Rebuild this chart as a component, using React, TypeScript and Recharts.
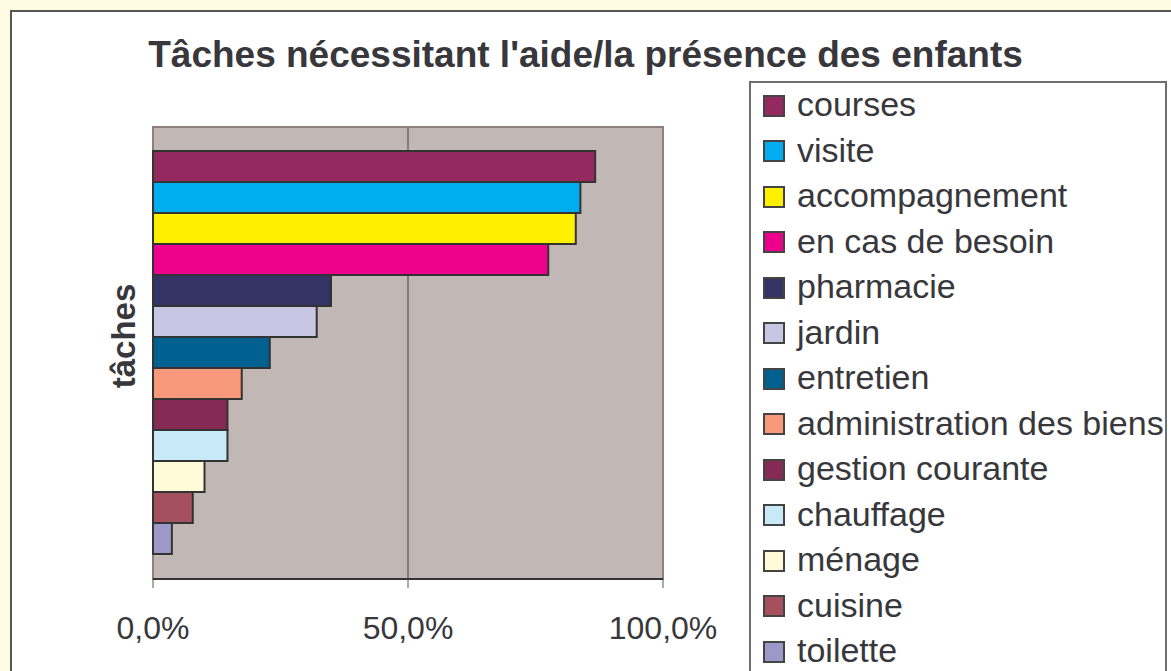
import { Bar, BarChart, CartesianGrid, Legend, ReferenceArea, XAxis, YAxis } from "recharts";

const tasks = [
  "courses",
  "visite",
  "accompagnement",
  "en cas de besoin",
  "pharmacie",
  "jardin",
  "entretien",
  "administration des biens",
  "gestion courante",
  "chauffage",
  "ménage",
  "cuisine",
  "toilette",
];

// share of respondents (%)
const shares = [86.7, 83.8, 82.9, 77.5, 34.9, 32.1, 22.9, 17.4, 14.6, 14.6, 10.1, 7.8, 3.7];

const colors = [
  "#93295E",
  "#00ADEE",
  "#FFF000",
  "#EC008C",
  "#333366",
  "#C8C6E2",
  "#006090",
  "#F7997A",
  "#852A55",
  "#C8EAF8",
  "#FFFBD8",
  "#A5505E",
  "#9C98C8",
];

const xTicks = [0, 50, 100];
const category = "tâches";
const title = "Tâches nécessitant l'aide/la présence des enfants";

const row: Record<string, string | number> = { name: category };
tasks.forEach((_, i) => {
  row[`s${i}`] = shares[i];
});
const data = [row];

const font = "'Liberation Sans', Arial, Helvetica, sans-serif";
const ink = "#37373c";

const fmtPct = (v: number) => `${v.toFixed(1).replace(".", ",")}%`;

function LegendBox() {
  return (
    <div
      style={{
        width: 418,
        height: 640,
        border: "2px solid #6f6f6f",
        background: "#fff",
        boxSizing: "border-box",
        fontFamily: font,
        fontSize: 34,
        color: ink,
      }}
    >
      {tasks.map((t, i) => (
        <div key={t} style={{ height: 45.5, display: "flex", alignItems: "center", whiteSpace: "nowrap" }}>
          <span
            style={{
              display: "inline-block",
              width: 22,
              height: 22,
              marginLeft: 12,
              marginRight: 12,
              boxSizing: "border-box",
              border: "2px solid #444",
              background: colors[i],
            }}
          />
          <span style={{ position: "relative", top: -1 }}>{t}</span>
        </div>
      ))}
    </div>
  );
}

function AxisTitle(props: any) {
  const vb = props.viewBox || { x: 0, y: 0, width: 0, height: 0 };
  const x = vb.x + vb.width - 18;
  const y = vb.y + vb.height / 2 - 17;
  return (
    <text
      x={x}
      y={y}
      transform={`rotate(-90, ${x}, ${y})`}
      textAnchor="middle"
      fontFamily={font}
      fontWeight="bold"
      fontSize={33}
      fill={ink}
    >
      {category}
    </text>
  );
}

export default function App() {
  return (
    <div style={{ position: "fixed", inset: 0, overflow: "hidden", background: "#FFFBE3" }}>
      <div
        style={{
          position: "absolute",
          left: 10,
          top: 10,
          width: 1220,
          height: 720,
          border: "2px solid #555",
          background: "#fff",
          boxSizing: "border-box",
        }}
      />
      <div
        style={{
          position: "absolute",
          left: 0,
          top: 34,
          width: 1171,
          textAlign: "center",
          fontFamily: font,
          fontWeight: "bold",
          fontSize: 37,
          color: ink,
          whiteSpace: "nowrap",
        }}
      >
        {title}
      </div>
      <div style={{ position: "absolute", left: 0, top: 0 }}>
        <BarChart
          width={1171}
          height={671}
          data={data}
          layout="vertical"
          barGap={0}
          barCategoryGap={24}
          margin={{ top: 127, right: 508, bottom: 32, left: 97 }}
        >
          <CartesianGrid horizontal={false} fill="#C1B7B5" stroke="none" />
          <CartesianGrid horizontal={false} verticalValues={[50]} stroke="#5a5352" strokeWidth={1.2} />
          <ReferenceArea x1={0} x2={100} fill="none" stroke="#8d807c" strokeWidth={2} />
          <XAxis
            type="number"
            domain={[0, 100]}
            ticks={xTicks}
            tickFormatter={fmtPct}
            height={60}
            tickSize={9}
            tickMargin={28}
            axisLine={{ stroke: "#333", strokeWidth: 2 }}
            tickLine={{ stroke: "#555" }}
            tick={{ fill: ink, fontFamily: font, fontSize: 32 }}
            interval={0}
          />
          <YAxis
            type="category"
            dataKey="name"
            width={56}
            tick={false}
            tickLine={false}
            axisLine={false}
            label={<AxisTitle />}
          />
          <Legend
            layout="horizontal"
            verticalAlign="middle"
            align="center"
            content={() => <LegendBox />}
            wrapperStyle={{ position: "absolute", left: 749, top: 81, width: 418, height: 640 }}
          />
          {tasks.map((t, i) => (
            <Bar
              key={t}
              dataKey={`s${i}`}
              name={t}
              fill={colors[i]}
              stroke="#333"
              strokeWidth={2}
              isAnimationActive={false}
            />
          ))}
        </BarChart>
      </div>
    </div>
  );
}
